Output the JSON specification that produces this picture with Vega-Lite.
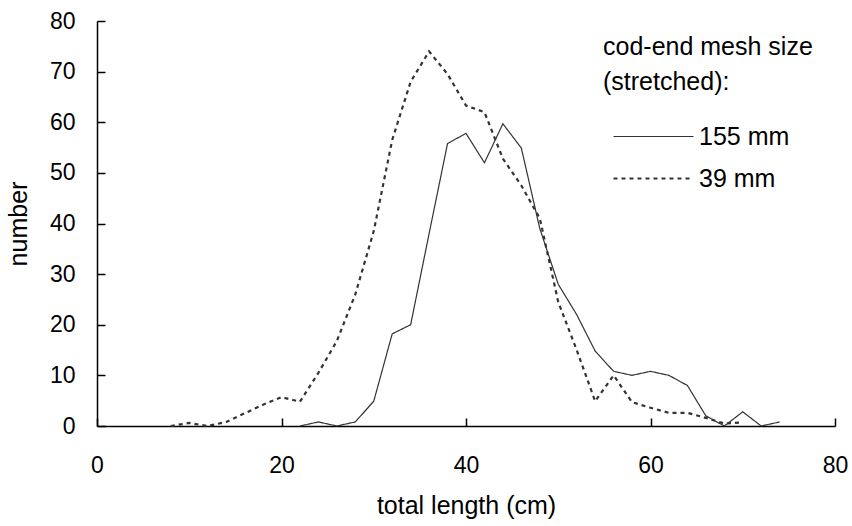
{
  "$schema": "https://vega.github.io/schema/vega-lite/v6.json",
  "width": 738,
  "height": 405,
  "autosize": {"type": "none"},
  "padding": {"left": 97, "top": 21, "right": 17, "bottom": 100},
  "background": "white",
  "config": {
    "view": {"stroke": null},
    "font": "Liberation Sans",
    "axis": {
      "grid": false,
      "domainColor": "black",
      "domainWidth": 1.5,
      "tickColor": "black",
      "tickWidth": 1.5,
      "tickSize": -8,
      "labelColor": "black",
      "labelFont": "Liberation Sans",
      "labelFontSize": 23,
      "titleColor": "black",
      "titleFont": "Liberation Sans",
      "titleFontSize": 25,
      "titleFontWeight": "normal",
      "labelFlush": false,
      "labelOverlap": false
    }
  },
  "data": {
    "values": [
      {"length": 22, "number": 0, "mesh": "155 mm"},
      {"length": 24, "number": 0.8, "mesh": "155 mm"},
      {"length": 26, "number": 0, "mesh": "155 mm"},
      {"length": 28, "number": 0.8, "mesh": "155 mm"},
      {"length": 30, "number": 4.9, "mesh": "155 mm"},
      {"length": 32, "number": 18.2, "mesh": "155 mm"},
      {"length": 34, "number": 20, "mesh": "155 mm"},
      {"length": 36, "number": 38, "mesh": "155 mm"},
      {"length": 38, "number": 55.8, "mesh": "155 mm"},
      {"length": 40, "number": 57.8, "mesh": "155 mm"},
      {"length": 42, "number": 52, "mesh": "155 mm"},
      {"length": 44, "number": 59.7, "mesh": "155 mm"},
      {"length": 46, "number": 54.9, "mesh": "155 mm"},
      {"length": 48, "number": 39, "mesh": "155 mm"},
      {"length": 50, "number": 28, "mesh": "155 mm"},
      {"length": 52, "number": 22, "mesh": "155 mm"},
      {"length": 54, "number": 14.8, "mesh": "155 mm"},
      {"length": 56, "number": 10.8, "mesh": "155 mm"},
      {"length": 58, "number": 10, "mesh": "155 mm"},
      {"length": 60, "number": 10.8, "mesh": "155 mm"},
      {"length": 62, "number": 10, "mesh": "155 mm"},
      {"length": 64, "number": 8, "mesh": "155 mm"},
      {"length": 66, "number": 2, "mesh": "155 mm"},
      {"length": 68, "number": 0, "mesh": "155 mm"},
      {"length": 70, "number": 2.8, "mesh": "155 mm"},
      {"length": 72, "number": 0, "mesh": "155 mm"},
      {"length": 74, "number": 0.8, "mesh": "155 mm"},
      {"length": 8, "number": 0, "mesh": "39 mm"},
      {"length": 10, "number": 0.6, "mesh": "39 mm"},
      {"length": 12, "number": 0, "mesh": "39 mm"},
      {"length": 14, "number": 0.8, "mesh": "39 mm"},
      {"length": 16, "number": 2.5, "mesh": "39 mm"},
      {"length": 18, "number": 4.2, "mesh": "39 mm"},
      {"length": 20, "number": 5.7, "mesh": "39 mm"},
      {"length": 22, "number": 4.8, "mesh": "39 mm"},
      {"length": 24, "number": 10.5, "mesh": "39 mm"},
      {"length": 26, "number": 16.8, "mesh": "39 mm"},
      {"length": 28, "number": 26, "mesh": "39 mm"},
      {"length": 30, "number": 38.5, "mesh": "39 mm"},
      {"length": 32, "number": 56.5, "mesh": "39 mm"},
      {"length": 34, "number": 68, "mesh": "39 mm"},
      {"length": 36, "number": 74, "mesh": "39 mm"},
      {"length": 38, "number": 69.5, "mesh": "39 mm"},
      {"length": 40, "number": 63.3, "mesh": "39 mm"},
      {"length": 42, "number": 62, "mesh": "39 mm"},
      {"length": 44, "number": 52.8, "mesh": "39 mm"},
      {"length": 46, "number": 47.5, "mesh": "39 mm"},
      {"length": 48, "number": 41, "mesh": "39 mm"},
      {"length": 50, "number": 24.5, "mesh": "39 mm"},
      {"length": 52, "number": 15, "mesh": "39 mm"},
      {"length": 54, "number": 4.9, "mesh": "39 mm"},
      {"length": 56, "number": 10, "mesh": "39 mm"},
      {"length": 58, "number": 4.7, "mesh": "39 mm"},
      {"length": 60, "number": 3.6, "mesh": "39 mm"},
      {"length": 62, "number": 2.6, "mesh": "39 mm"},
      {"length": 64, "number": 2.6, "mesh": "39 mm"},
      {"length": 66, "number": 1.6, "mesh": "39 mm"},
      {"length": 68, "number": 0.5, "mesh": "39 mm"},
      {"length": 70, "number": 0.7, "mesh": "39 mm"}
    ]
  },
  "mark": {"type": "line", "color": "#333333", "strokeCap": "butt"},
  "encoding": {
    "x": {
      "field": "length",
      "type": "quantitative",
      "scale": {"domain": [0, 80], "nice": false, "zero": false},
      "axis": {
        "values": [0, 20, 40, 60, 80],
        "title": "total length (cm)",
        "labelPadding": 36,
        "titlePadding": 16
      }
    },
    "y": {
      "field": "number",
      "type": "quantitative",
      "scale": {"domain": [0, 80], "nice": false},
      "axis": {
        "values": [0, 10, 20, 30, 40, 50, 60, 70, 80],
        "title": "number",
        "labelPadding": 30,
        "titlePadding": 18
      }
    },
    "detail": {"field": "mesh", "type": "nominal"},
    "strokeDash": {
      "field": "mesh",
      "type": "nominal",
      "scale": {"domain": ["155 mm", "39 mm"], "range": [[1, 0], [4, 4]]},
      "legend": {
        "orient": "none",
        "legendX": 506,
        "legendY": 14,
        "padding": 0,
        "title": ["cod-end mesh size", "(stretched):"],
        "titleFont": "Liberation Sans",
        "titleFontSize": 25,
        "titleFontWeight": "normal",
        "titleColor": "black",
        "titleLimit": 400,
        "titleLineHeight": 35,
        "titlePadding": 29,
        "labelFont": "Liberation Sans",
        "labelFontSize": 25,
        "labelColor": "black",
        "labelLimit": 200,
        "symbolType": "stroke",
        "symbolSize": 6400,
        "symbolStrokeWidth": 1.3,
        "symbolStrokeColor": "#333333",
        "symbolOffset": 9,
        "labelOffset": 4,
        "clipHeight": 25,
        "rowPadding": 16
      }
    },
    "strokeWidth": {
      "field": "mesh",
      "type": "nominal",
      "scale": {"domain": ["155 mm", "39 mm"], "range": [1.2, 2.2]},
      "legend": null
    }
  }
}
